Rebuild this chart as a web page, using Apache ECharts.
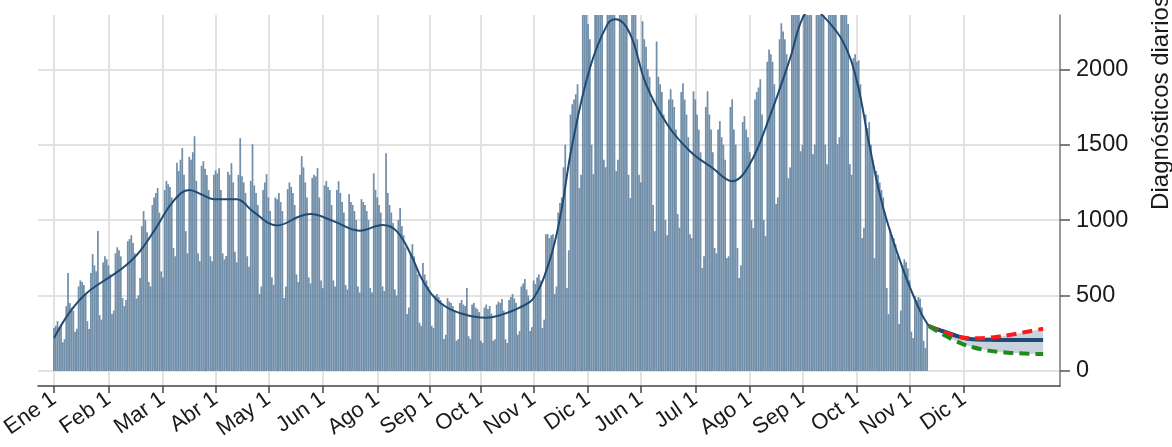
<!DOCTYPE html>
<html>
<head>
<meta charset="utf-8">
<script src="https://cdn.jsdelivr.net/npm/echarts@6/dist/echarts.min.js"></script>
<style>
  html, body { margin: 0; padding: 0; background: #fff; }
  #chart { width: 1172px; height: 447px; }
</style>
</head>
<body>
<div id="chart"></div>
<script>
// day 0 = first bar; ticks are placed on days
const tickDays = [0, 31, 62, 92, 122, 153, 184, 214, 243, 273, 304, 334, 365, 396, 426, 457, 487, 518];
const tickLabels = ['Ene 1', 'Feb 1', 'Mar 1', 'Abr 1', 'May 1', 'Jun 1', 'Ago 1', 'Sep 1', 'Oct 1',
  'Nov 1', 'Dic 1', 'Jun 1', 'Jul 1', 'Ago 1', 'Sep 1', 'Oct 1', 'Nov 1', 'Dic 1'];
const yTicks = [0, 500, 1000, 1500, 2000];

// daily diagnoses, one week per row
const dailyCases = [
  285, 300, 330, 290, 310, 190, 210,
  430, 650, 450, 420, 400, 260, 280,
  560, 600, 590, 570, 510, 330, 278,
  650, 775, 700, 660, 927, 370, 340,
  720, 760, 740, 700, 640, 377, 400,
  780, 820, 800, 760, 483, 430, 470,
  860, 874, 900, 850, 780, 480, 500,
  616, 960, 1060, 1000, 920, 590, 560,
  1100, 1150, 1180, 1212, 1050, 660, 620,
  1200, 1260, 1238, 1220, 1150, 815, 760,
  1380, 1325, 1400, 1477, 1300, 927, 780,
  1420, 1400, 1450, 1556, 1260, 780, 728,
  1360, 1391, 1340, 1300, 1200, 760, 728,
  1300, 1330, 1310, 1344, 1200, 780, 740,
  762, 1320, 1300, 1377, 1250, 790, 720,
  1300, 1543, 1290, 1250, 1180, 760, 690,
  1260, 1503, 1230, 1180, 1100, 510, 560,
  1200, 1250, 1305, 1150, 1060, 620, 570,
  1150, 1139, 1180, 1120, 1060, 483, 560,
  1205, 1250, 1220, 1180, 1100, 640, 590,
  1300, 1424, 1350, 1250, 1150, 620, 580,
  1280, 1300, 1290, 1344, 1150, 600, 550,
  1230, 1260, 1220, 1200, 1100, 600, 560,
  1200, 1258, 1180, 1120, 1050, 570, 540,
  1172, 1120, 1100, 1060, 1000, 560, 520,
  1139, 1120, 1100, 1060, 1000, 550, 520,
  1311, 1200, 1150, 1100, 1050, 560, 530,
  1444, 1180, 1100, 1050, 980, 540, 500,
  1000, 1080, 960, 900, 820, 377, 420,
  780, 841, 760, 700, 640, 320, 300,
  715, 640, 600, 560, 520, 300, 285,
  500, 510, 490, 470, 440, 212, 240,
  483, 460, 450, 430, 400, 200, 210,
  450, 470, 440, 430, 550, 230, 212,
  440, 450, 420, 410, 390, 200, 185,
  420, 440, 410, 430, 380, 200, 210,
  440, 460, 450, 477, 400, 210, 185,
  470, 490, 510, 480, 450, 240, 265,
  560, 580, 609, 540, 500, 265, 290,
  600, 576, 620, 640, 600, 285, 340,
  907, 907, 880, 900, 907, 510, 560,
  1050, 1113, 1150, 1350, 1500, 550, 800,
  1700, 1768, 1800, 1834, 1900, 1212, 1300,
  2500, 2450, 2400, 2300, 2200, 1500, 1305,
  2700, 2800, 2750, 2600, 2500, 1400, 1350,
  2900, 2850, 2700, 2650, 2500, 1325, 1400,
  2800, 2750, 2700, 2600, 2400, 1300, 1146,
  2600, 2500, 2400, 2200, 1300, 1250, 2318,
  2200, 2150, 2000, 1950, 1800, 1100, 927,
  2185, 1950, 1900, 1850, 1700, 1000, 900,
  1800, 1867, 1800, 1750, 1600, 1040, 950,
  1850, 1907, 1800, 1700, 1550, 907, 880,
  1854, 1800, 1700, 1600, 1450, 682, 760,
  1750, 1854, 1700, 1600, 1450, 815, 780,
  1600, 1656, 1550, 1500, 1400, 748, 760,
  1750, 1801, 1600, 1500, 815, 616, 700,
  1650, 1689, 1600, 1550, 1450, 1000, 947,
  1800, 1850, 1880, 1934, 1700, 1000, 894,
  2050, 2132, 2100, 2050, 1900, 1106, 1150,
  2199, 2305, 2250, 2200, 2100, 1278, 1350,
  2600, 2700, 2650, 2550, 2400, 1457, 1500,
  2900, 2950, 2850, 2800, 2600, 1437, 1500,
  2900, 2850, 2800, 2700, 2600, 1500, 1371,
  2750, 2700, 2600, 2500, 2400, 1503, 1550,
  2500, 2550, 2450, 2400, 2300, 1371, 1300,
  2073, 2100, 2050, 2060, 1900, 881, 950,
  1700, 1609, 1650, 1500, 1400, 748, 1325,
  1300, 1250, 1200, 1150, 1050, 550, 377,
  940, 900, 880, 840, 760, 311, 400,
  700, 740, 720, 680, 600, 260, 218,
  497, 470, 490, 480, 420, 200, 152,
  311
];

// smoothed curve
const trendDays = [0, 9, 19, 34, 41, 49, 58, 68, 77, 84, 91, 104, 113, 127, 140, 146, 159, 174, 187, 195,
  203, 210, 220, 233, 246, 254, 265, 273, 282, 288, 295, 305, 315, 320, 328, 337, 349, 362, 375, 386,
  396, 407, 419, 426, 432, 438, 449, 457, 464, 472, 483, 493, 498];
const trendVals = [218, 390, 520, 640, 700, 795, 947, 1126, 1200, 1170, 1139, 1139, 1060, 965, 1026, 1040, 993, 930, 967, 927,
  775, 596, 450, 377, 352, 370, 420, 483, 728, 1013, 1503, 2007, 2298, 2331, 2232, 1900, 1636, 1457, 1344, 1258,
  1371, 1675, 2073, 2338, 2400, 2351, 2185, 1921, 1503, 1080, 682, 397, 298];

// projection: central path, upper (red) and lower (green) scenarios
const projDays = [498, 503, 508, 513, 518, 523, 528, 533, 538, 543, 548, 553, 558, 563];
const projMid = [298, 275, 255, 235, 218, 210, 207, 206, 205, 205, 205, 205, 205, 205];
const projHigh = [298, 272, 250, 232, 220, 216, 217, 221, 228, 237, 247, 258, 269, 280];
const projLow = [298, 262, 230, 200, 175, 157, 143, 133, 126, 121, 118, 115, 113, 112];

const font = 'Liberation Sans, Arial, sans-serif';
const pair = (xs, ys) => xs.map((x, i) => [x, ys[i]]);

const chart = echarts.init(document.getElementById('chart'), null, { renderer: 'canvas' });

chart.setOption({
  animation: false,
  backgroundColor: '#fff',
  grid: { left: 38, right: 112, top: 15, bottom: 61, containLabel: false, outerBoundsMode: 'none' },
  xAxis: {
    type: 'value',
    min: -9.1,
    max: 572.6,
    axisLine: { onZero: false, lineStyle: { color: '#444', width: 1.5 } },
    axisTick: { customValues: tickDays, length: 7, lineStyle: { color: '#444', width: 1.5 } },
    axisLabel: {
      customValues: tickDays,
      rotate: 35,
      margin: 11,
      fontSize: 22,
      fontFamily: font,
      color: '#1a1a1a',
      formatter: (v) => tickLabels[tickDays.indexOf(v)]
    },
    splitLine: { show: true, lineStyle: { color: '#e2e2e2', width: 2 } }
  },
  yAxis: {
    type: 'value',
    position: 'right',
    min: -100,
    max: 2360,
    name: 'Diagnósticos diarios',
    nameLocation: 'middle',
    nameGap: 89,
    nameTextStyle: { fontSize: 24, fontFamily: font, color: '#1a1a1a', padding: [0, 0, 0, 196] },
    axisLine: { show: true, onZero: false, lineStyle: { color: '#777', width: 1.5 } },
    axisTick: { show: true, customValues: yTicks, length: 10, lineStyle: { color: '#555', width: 1.5 } },
    axisLabel: {
      customValues: yTicks,
      margin: 16,
      fontSize: 23.5,
      fontFamily: font,
      color: '#1a1a1a',
      formatter: (v) => String(v)
    },
    splitLine: { show: true, lineStyle: { color: '#e2e2e2', width: 2 } }
  },
  series: [
    {
      type: 'bar',
      data: dailyCases.map((v, i) => [i, v]),
      barWidth: 1.75,
      itemStyle: { color: '#5f809e', opacity: 0.88 },
      z: 1
    },
    {
      type: 'line',
      data: pair(trendDays, trendVals),
      smooth: 0.4,
      showSymbol: false,
      lineStyle: { color: '#1f4a73', width: 2 },
      z: 3
    },
    {
      // shaded band between the two scenarios
      type: 'custom',
      data: [0],
      z: 2,
      renderItem: (params, api) => {
        const upper = projDays.map((d, i) => api.coord([d, projHigh[i]]));
        const lower = projDays.map((d, i) => api.coord([d, projLow[i]])).reverse();
        return {
          type: 'polygon',
          shape: { points: upper.concat(lower) },
          style: { fill: '#c9d3de' }
        };
      }
    },
    {
      type: 'line',
      data: pair(projDays, projMid),
      smooth: true,
      showSymbol: false,
      lineStyle: { color: '#1f4a73', width: 4 },
      z: 4
    },
    {
      type: 'line',
      data: pair(projDays, projHigh),
      smooth: true,
      showSymbol: false,
      lineStyle: { color: '#ff1a1a', width: 4, type: [10, 6] },
      z: 5
    },
    {
      type: 'line',
      data: pair(projDays, projLow),
      smooth: true,
      showSymbol: false,
      lineStyle: { color: '#1e8a1e', width: 4, type: [10, 6] },
      z: 5
    }
  ]
});
</script>
</body>
</html>
